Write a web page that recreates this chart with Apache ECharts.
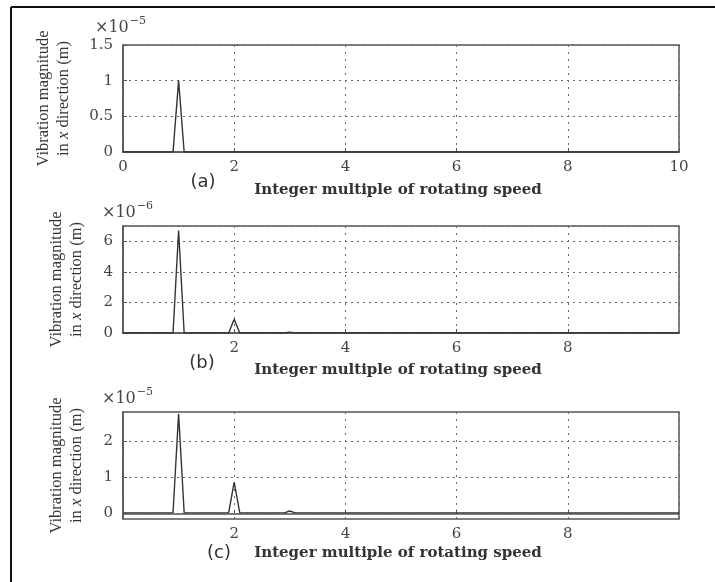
<!DOCTYPE html>
<html>
<head>
<meta charset="utf-8">
<script src="https://cdn.jsdelivr.net/npm/echarts@6/dist/echarts.min.js"></script>
<style>html,body{margin:0;padding:0;background:#fff;}#c{width:715px;height:582px;}</style>
</head>
<body>
<div id="c"></div>
<script>
// ---- data (values in units of the multiplier shown above each panel) ----
const xA = [0, 0.9, 1, 1.1, 2, 10];
const yA = [0, 0, 1.0, 0, 0, 0];           // x 1e-5 m

const xB = [0, 0.9, 1, 1.1, 1.9, 2, 2.1, 2.9, 3, 3.1, 10];
const yB = [0, 0, 6.7, 0, 0, 0.9, 0, 0, 0.06, 0, 0];   // x 1e-6 m

const xC = [0, 0.9, 1, 1.1, 1.9, 2, 2.1, 2.9, 3, 3.1, 10];
const yC = [0.02, 0.02, 2.75, 0.02, 0.02, 0.87, 0.02, 0.02, 0.07, 0.02, 0.02]; // x 1e-5 m

const xTicks = [0, 2, 4, 6, 8, 10];
const yTicksA = [0, 0.5, 1, 1.5];
const yTicksB = [0, 2, 4, 6];
const yTicksC = [0, 1, 2];

const panelLetters = ['(a)', '(b)', '(c)'];
const multipliers = ['-5', '-6', '-5'];
const xName = 'Integer multiple of rotating speed';
const yName = 'Vibration magnitude\nin {i|x} direction (m)';

const pairs = (xs, ys) => xs.map((x, i) => [x, ys[i]]);

const chart = echarts.init(document.getElementById('c'));
const gridLine = { show: true, lineStyle: { color: '#666', width: 1, type: [2, 4] } };
const tickLabel = { color: '#444', fontFamily: 'DejaVu Serif', fontSize: 15 };
const yNameStyle = { color: '#333', fontFamily: 'Liberation Serif', fontSize: 16.5, lineHeight: 20,
  rich: { i: { fontStyle: 'italic', fontFamily: 'Liberation Serif', fontSize: 16.5, color: '#333' } } };

const grids = [
  { left: 123, right: 36, top: 45, height: 107 },
  { left: 123, right: 36, top: 226, height: 107 },
  { left: 123, right: 36, top: 412, height: 107 }
].map(g => Object.assign(g, { show: true, borderColor: '#555', borderWidth: 1.5, backgroundColor: '#fff' }));

function xAxis(i, hideEnds) {
  return {
    type: 'value', gridIndex: i, min: xTicks[0], max: xTicks[xTicks.length - 1], interval: 2,
    axisLine: { show: true, lineStyle: { color: '#555', width: 1.5 } },
    axisTick: { show: true, inside: true, length: 4, lineStyle: { color: '#555' } },
    axisLabel: Object.assign({ margin: 8, showMinLabel: !hideEnds, showMaxLabel: !hideEnds }, tickLabel),
    splitLine: { show: true, lineStyle: { color: '#666', width: 1, type: [2, 5] } }
  };
}

const yBase = {
  type: 'value',
  axisLine: { show: true, lineStyle: { color: '#555', width: 1.5 } },
  axisTick: { show: true, inside: true, length: 4, lineStyle: { color: '#555' } },
  name: yName, nameLocation: 'middle', nameRotate: 90, nameTextStyle: yNameStyle
};

const seriesStyle = { type: 'line', showSymbol: false, animation: false, silent: true,
  lineStyle: { color: '#333', width: 1.4 } };

const option = {
  animation: false,
  grid: grids,
  xAxis: [xAxis(0, false), xAxis(1, true), xAxis(2, true)],
  yAxis: [
    Object.assign({}, yBase, { gridIndex: 0, min: yTicksA[0], max: yTicksA[yTicksA.length - 1], interval: 0.5,
      nameGap: 49, axisLabel: Object.assign({ margin: 10 }, tickLabel), splitLine: gridLine }),
    Object.assign({}, yBase, { gridIndex: 1, min: yTicksB[0], max: 7, interval: 2,
      nameGap: 36, axisLabel: Object.assign({ margin: 10, showMaxLabel: false }, tickLabel), splitLine: gridLine }),
    Object.assign({}, yBase, { gridIndex: 2, min: -0.15, max: 2.8,
      nameGap: 36,
      axisLabel: Object.assign({ margin: 10, customValues: yTicksC }, tickLabel),
      axisTick: { show: true, inside: true, length: 4, lineStyle: { color: '#555' }, customValues: yTicksC },
      splitLine: { show: false } })
  ],
  series: [
    Object.assign({}, seriesStyle, { xAxisIndex: 0, yAxisIndex: 0, data: pairs(xA, yA) }),
    Object.assign({}, seriesStyle, { xAxisIndex: 1, yAxisIndex: 1, data: pairs(xB, yB) }),
    Object.assign({}, seriesStyle, { xAxisIndex: 2, yAxisIndex: 2, data: pairs(xC, yC),
      markLine: { silent: true, symbol: 'none', animation: false, label: { show: false },
        lineStyle: { color: '#666', width: 1, type: [2, 4] },
        data: yTicksC.map(v => ({ yAxis: v })) } })
  ],
  graphic: [
    { type: 'line', shape: { x1: 11, y1: 7, x2: 715, y2: 7 }, style: { stroke: '#111', lineWidth: 2 } },
    { type: 'line', shape: { x1: 11, y1: 7, x2: 11, y2: 582 }, style: { stroke: '#111', lineWidth: 2 } }
  ]
};

const letterY = [182, 363, 553];
const letterX = [203, 202, 219];
const nameY = [190, 370, 553];
const multY = [28, 213, 399];
const multX = [95, 102, 102];
for (let i = 0; i < 3; i++) {
  option.graphic.push({
    type: 'text', x: multX[i], y: multY[i],
    style: { text: '×10{s|' + multipliers[i].replace('-', '−') + '}', fill: '#444',
      font: '16px "DejaVu Serif"', verticalAlign: 'middle',
      rich: { s: { fontSize: 11, fontFamily: 'DejaVu Serif', fill: '#444', verticalAlign: 'bottom', padding: [0, 0, 13, 1] } } }
  });
  option.graphic.push({
    type: 'text', x: letterX[i], y: letterY[i],
    style: { text: panelLetters[i], fill: '#333', font: '18px "DejaVu Sans"', align: 'center', verticalAlign: 'middle' }
  });
  option.graphic.push({
    type: 'text', x: 398, y: nameY[i],
    style: { text: xName, fill: '#333', font: 'bold 15px "DejaVu Serif"', align: 'center', verticalAlign: 'middle' }
  });
}

chart.setOption(option);
</script>
</body>
</html>
